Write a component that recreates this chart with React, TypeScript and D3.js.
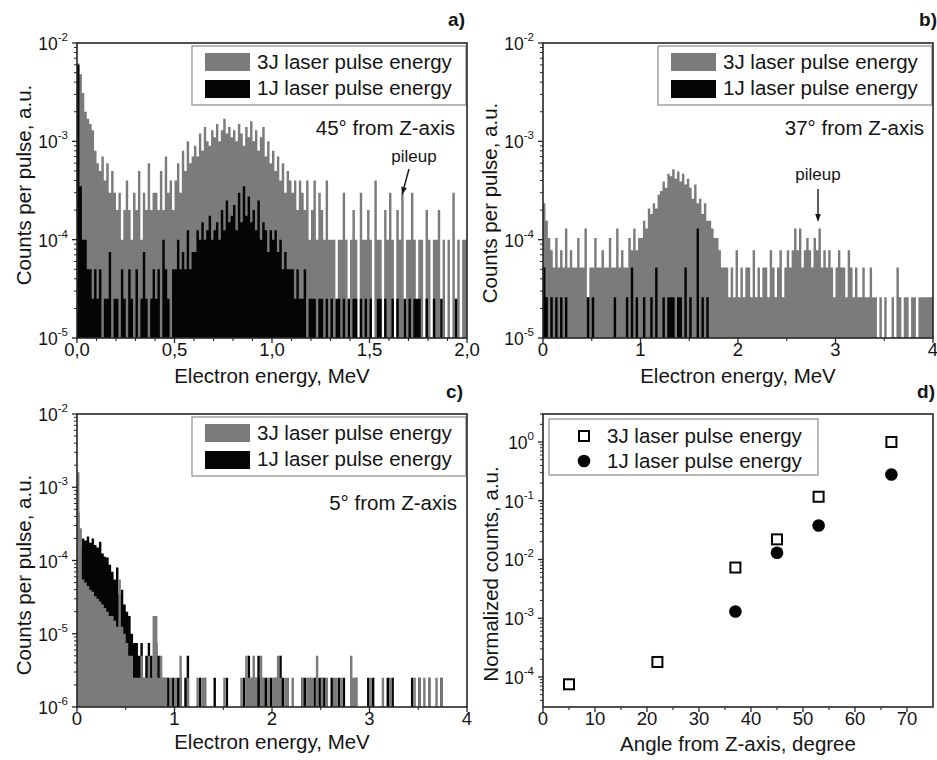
import React from "react";
import * as d3 from "d3";

// ---------------- data ----------------
// Panel a: 45 deg, energy bins of 0.0125 MeV, values are counts (times unit)
const binWidthA = 0.0125;
const unitA3J = 1e-4;
const unitA1J = 2.5e-5;
const countsA3J = [
  62, 48, 31, 20, 17, 15, 13, 8,
  6, 5, 7, 4, 6, 3, 5, 3,
  2, 3, 1, 2, 4, 2, 1, 3,
  2, 5, 1, 3, 2, 6, 2, 3,
  3, 2, 5, 2, 7, 3, 4, 2,
  4, 6, 3, 8, 5, 10, 6, 7,
  9, 7, 12, 8, 14, 10, 9, 13,
  11, 15, 10, 13, 17, 12, 14, 11,
  13, 10, 15, 12, 9, 14, 11, 16,
  10, 13, 8, 11, 14, 7, 10, 6,
  8, 5, 7, 4, 6, 3, 5, 4,
  3, 4, 2, 4, 3, 2, 4, 1,
  2, 4, 1, 3, 2, 1, 4, 1,
  1, 1, 0, 1, 1, 3, 1, 0,
  1, 2, 1, 0, 3, 1, 1, 2,
  1, 0, 4, 1, 1, 0, 2, 1,
  3, 1, 0, 2, 1, 3, 0, 1,
  1, 3, 1, 0, 1, 1, 0, 2,
  1, 0, 1, 1, 2, 0, 1, 0,
  1, 0, 3, 0, 1, 0, 1, 1,
];
const countsA1J = [
  240, 14, 4, 4, 2, 2, 1, 2,
  1, 2, 0, 1, 1, 3, 0, 1,
  1, 0, 2, 1, 0, 2, 1, 0,
  2, 0, 1, 3, 1, 0, 1, 2,
  1, 2, 0, 4, 2, 1, 0, 2,
  2, 4, 2, 3, 2, 5, 2, 3,
  3, 5, 4, 6, 4, 5, 7, 4,
  5, 6, 4, 8, 5, 10, 6, 7,
  9, 5, 12, 6, 14, 7, 11, 6,
  8, 5, 10, 4, 6, 5, 3, 5,
  4, 5, 3, 4, 2, 3, 2, 2,
  2, 1, 2, 1, 1, 2, 0, 1,
  1, 1, 0, 1, 1, 0, 1, 0,
  1, 0, 1, 1, 0, 1, 0, 1,
  0, 1, 1, 0, 1, 0, 1, 0,
  1, 0, 0, 1, 1, 0, 1, 0,
  0, 1, 0, 1, 0, 0, 1, 0,
  1, 0, 1, 1, 1, 0, 0, 1,
  0, 0, 1, 0, 0, 1, 0, 0,
  0, 0, 0, 1, 0, 0, 0, 0,
];

// Panel b: 37 deg, bins of 0.025 MeV
const binWidthB = 0.025;
const unitB = 2.6e-5;
const countsB3J = [
  9, 6, 4, 3, 2, 4, 2, 3, 2, 5, 2, 3, 2, 2, 4, 2,
  2, 5, 1, 2, 2, 4, 2, 2, 3, 2, 2, 4, 2, 2, 5, 2,
  3, 2, 2, 4, 3, 5, 3, 4, 4, 6, 5, 8, 7, 9, 8, 11,
  12, 15, 13, 18, 17, 20, 16, 19, 15, 18, 14, 16, 13, 10, 14, 9,
  10, 7, 9, 6, 6, 5, 4, 4, 3, 2, 2, 2, 1, 2, 1, 3,
  1, 2, 1, 2, 2, 1, 3, 1, 2, 1, 2, 2, 1, 3, 2, 1,
  2, 3, 1, 2, 3, 2, 3, 5, 3, 5, 2, 3, 4, 3, 2, 4,
  3, 5, 2, 3, 2, 3, 2, 1, 2, 3, 2, 2, 1, 3, 2, 1,
  2, 1, 1, 2, 1, 1, 2, 1, 1, 0, 1, 0, 1, 0, 0, 1,
  0, 2, 1, 0, 1, 1, 0, 1, 1, 0, 1, 1, 1, 1, 1, 1,
];
const countsB1J = [
  2, 1, 0, 1, 0, 1, 0, 1, 0, 1, 0, 0, 0, 0, 0, 0,
  0, 0, 1, 0, 1, 0, 0, 0, 0, 0, 0, 0, 0, 1, 0, 0,
  0, 0, 1, 0, 2, 0, 1, 0, 0, 1, 0, 0, 1, 0, 2, 0,
  0, 1, 0, 1, 1, 1, 0, 1, 1, 0, 2, 0, 1, 0, 0, 5,
  0, 1, 0, 1, 0, 0, 0, 0,
];

// Panel c: 5 deg, bins of 0.025 MeV
const binWidthC = 0.025;
const unitC = 2.5e-6;
const countsC3J = [
  640, 110, 22, 20, 18, 16, 15, 13, 12, 11, 10, 9, 8, 7, 7, 6,
  5, 22, 5, 4, 3, 2, 2, 1, 1, 1, 2, 1, 1, 2, 1, 7,
  7, 1, 2, 1, 1, 0, 1, 0, 1, 0, 2, 0, 0, 1, 0, 0,
  0, 1, 0, 1, 1, 0, 0, 0, 0, 0, 0, 0, 1, 0, 0, 0,
  0, 0, 0, 1, 0, 2, 1, 1, 2, 1, 0, 2, 1, 0, 1, 0,
  1, 1, 2, 1, 0, 1, 1, 0, 1, 0, 0, 0, 1, 0, 1, 1,
  1, 0, 2, 0, 1, 0, 1, 0, 0, 1, 1, 0, 1, 0, 0, 0,
  2, 1, 1, 0, 0, 0, 0, 0, 1, 0, 0, 0, 0, 1, 0, 0,
  1, 0, 0, 0, 0, 0, 0, 0, 0, 0, 1, 0, 1, 0, 1, 0,
  1, 0, 0, 1, 0, 1, 0, 0,
];
const countsC1J = [
  180, 60, 80, 75, 85, 70, 80, 65, 60, 72, 50, 45, 44, 35, 28, 22,
  32, 14, 16, 10, 8, 7, 4, 3, 3, 2, 3, 1, 2, 3, 2, 1,
  3, 2, 1, 1, 1, 1, 0, 1, 0, 1, 1, 0, 1, 2, 0, 0,
  0, 0, 1, 0, 1, 0, 0, 0, 1, 0, 0, 0, 0, 1, 0, 0,
  0, 0, 0, 0, 1, 0, 2, 1, 1, 1, 2, 1, 1, 1, 0, 1,
  0, 1, 0, 2, 1, 0, 0, 0, 0, 0, 0, 0, 1, 1, 0, 1,
  0, 1, 0, 1, 1, 1, 0, 0, 1, 0, 0, 1, 0, 1, 0, 0,
  1, 0, 1, 0, 0, 0, 0, 1, 0, 1, 0, 0, 0, 0, 0, 1,
  0, 1, 0, 0, 0, 0, 0, 0, 0, 1, 0, 0, 1, 0, 0, 0,
  1, 0, 0, 0, 0, 1, 0, 0,
];

// Panel d: normalized counts vs angle
const angles3J = [5, 22, 37, 45, 53, 67];
const norm3J = [7.5e-5, 1.8e-4, 7.3e-3, 2.2e-2, 0.117, 1.0];
const angles1J = [37, 45, 53, 67];
const norm1J = [1.3e-3, 1.3e-2, 3.8e-2, 0.28];

// Tick labels
const ticksA = [0, 0.5, 1, 1.5, 2];
const tickLabelsA = ["0,0", "0,5", "1,0", "1,5", "2,0"];
const ticksBC = [0, 1, 2, 3, 4];
const tickLabelsBC = ["0", "1", "2", "3", "4"];
const ticksD = [0, 10, 20, 30, 40, 50, 60, 70];
const tickLabelsD = ["0", "10", "20", "30", "40", "50", "60", "70"];
const legendLabels = ["3J laser pulse energy", "1J laser pulse energy"];

// ---------------- styles ----------------
const FONT = "'Liberation Sans', Arial, Helvetica, sans-serif";
const GRAY = "#7b7b7b";
const BLACK = "#050505";
const AXIS = "#262626";
const TEXT = "#141414";

type Geo = { l: number; r: number; t: number; b: number };
type Layer = { data: number[]; unit: number; color: string; binW: number };

function logTicks(lo: number, hi: number) {
  const out: { v: number; major: boolean; e: number }[] = [];
  const e0 = Math.floor(Math.log10(lo));
  const e1 = Math.ceil(Math.log10(hi));
  for (let e = e0; e <= e1; e++) {
    for (let k = 1; k <= 9; k++) {
      const v = k * Math.pow(10, e);
      if (v >= lo * 0.999 && v <= hi * 1.001) out.push({ v, major: k === 1, e });
    }
  }
  return out;
}

function Axes({
  g, x, y, xTicks, xLabels, xMinor, yDomain,
}: {
  g: Geo; x: d3.ScaleLinear<number, number>; y: d3.ScaleLogarithmic<number, number>;
  xTicks: number[]; xLabels: string[]; xMinor: number[]; yDomain: [number, number];
}) {
  const yt = logTicks(yDomain[0], yDomain[1]);
  return (
    <g>
      <rect x={g.l} y={g.t} width={g.r - g.l} height={g.b - g.t} fill="none" stroke={AXIS} strokeWidth={1.6} />
      {xTicks.map((v, i) => (
        <g key={"xt" + i}>
          <line x1={x(v)} x2={x(v)} y1={g.b} y2={g.b + 5} stroke={AXIS} strokeWidth={1.3} />
          <text x={x(v)} y={g.b + 18} textAnchor="middle" fontSize={18.5} fill={TEXT}>{xLabels[i]}</text>
        </g>
      ))}
      {xMinor.map((v, i) => (
        <line key={"xm" + i} x1={x(v)} x2={x(v)} y1={g.b} y2={g.b + 3} stroke={AXIS} strokeWidth={1.1} />
      ))}
      {yt.map((t, i) => (
        <g key={"yt" + i}>
          <line x1={g.l - (t.major ? 5 : 3)} x2={g.l} y1={y(t.v)} y2={y(t.v)} stroke={AXIS} strokeWidth={t.major ? 1.3 : 1} />
          {t.major ? (
            <text x={g.l - 9} y={y(t.v) + 7} textAnchor="end" fontSize={17.5} fill={TEXT}>
              10<tspan dy={-9} fontSize={11.5}>{String(t.e)}</tspan>
            </text>
          ) : null}
        </g>
      ))}
    </g>
  );
}

function barsPath(layer: Layer, x: d3.ScaleLinear<number, number>, y: d3.ScaleLogarithmic<number, number>, bottom: number) {
  const p = d3.path();
  layer.data.forEach((c, i) => {
    if (c <= 0) return;
    const x0 = x(i * layer.binW);
    const x1 = x((i + 1) * layer.binW);
    const yt = y(c * layer.unit);
    p.rect(x0, yt, x1 - x0, bottom - yt);
  });
  return p.toString();
}

function HistLegend({ g }: { g: Geo }) {
  const bx = g.l + 115;
  return (
    <g>
      <rect x={bx} y={g.t + 3} width={g.r - bx - 1} height={59} fill="white" stroke="#8a8a8a" strokeWidth={1.2} />
      <rect x={g.l + 128} y={g.t + 10} width={45} height={18} fill={GRAY} />
      <rect x={g.l + 128} y={g.t + 37} width={45} height={18} fill={BLACK} />
      <text x={g.l + 180} y={g.t + 26} fontSize={20.5} fill={TEXT}>{legendLabels[0]}</text>
      <text x={g.l + 180} y={g.t + 52} fontSize={20.5} fill={TEXT}>{legendLabels[1]}</text>
    </g>
  );
}

function Arrow({ x1, y1, x2, y2 }: { x1: number; y1: number; x2: number; y2: number }) {
  const dx = x2 - x1, dy = y2 - y1;
  const len = Math.hypot(dx, dy);
  const ux = dx / len, uy = dy / len;
  const bx = x2 - ux * 8, by = y2 - uy * 8;
  const nx = -uy, ny = ux;
  return (
    <g>
      <line x1={x1} y1={y1} x2={bx} y2={by} stroke={TEXT} strokeWidth={1.4} />
      <polygon points={`${x2},${y2} ${bx + nx * 2.8},${by + ny * 2.8} ${bx - nx * 2.8},${by - ny * 2.8}`} fill={TEXT} />
    </g>
  );
}

function HistPanel({
  id, g, xMax, yDomain, layers, xTicks, xLabels, xMinor,
}: {
  id: string; g: Geo; xMax: number; yDomain: [number, number]; layers: Layer[];
  xTicks: number[]; xLabels: string[]; xMinor: number[];
}) {
  const x = d3.scaleLinear().domain([0, xMax]).range([g.l, g.r]);
  const y = d3.scaleLog().domain(yDomain).range([g.b, g.t]);
  return (
    <g>
      <defs>
        <clipPath id={id}>
          <rect x={g.l} y={g.t} width={g.r - g.l} height={g.b - g.t} />
        </clipPath>
      </defs>
      <g clipPath={`url(#${id})`}>
        {layers.map((L, i) => (
          <path key={i} d={barsPath(L, x, y, g.b)} fill={L.color} />
        ))}
      </g>
      <HistLegend g={g} />
      <Axes g={g} x={x} y={y} xTicks={xTicks} xLabels={xLabels} xMinor={xMinor} yDomain={yDomain} />
    </g>
  );
}

const gA: Geo = { l: 77, r: 467, t: 43, b: 338 };
const gB: Geo = { l: 543, r: 933, t: 43, b: 338 };
const gC: Geo = { l: 77, r: 467, t: 414, b: 707 };
const gD: Geo = { l: 543, r: 933, t: 414, b: 707 };

export default function App() {
  const minorA = d3.range(0.1, 2, 0.1).filter((v) => Math.abs(v * 2 - Math.round(v * 2)) > 1e-6);
  const minorBC = [0.5, 1.5, 2.5, 3.5];
  const minorD = [5, 15, 25, 35, 45, 55, 65];

  const xD = d3.scaleLinear().domain([0, 75]).range([gD.l, gD.r]);
  const yDDomain: [number, number] = [3.08e-5, 3.0];
  const yD = d3.scaleLog().domain(yDDomain).range([gD.b, gD.t]);

  return (
    <svg width={937} height={760} style={{ position: "absolute", left: 0, top: 0, fontFamily: FONT }}>
      <rect x={0} y={0} width={937} height={760} fill="white" />

      {/* Panel a */}
      <HistPanel
        id="clipA" g={gA} xMax={2} yDomain={[1e-5, 1e-2]}
        layers={[
          { data: countsA3J, unit: unitA3J, color: GRAY, binW: binWidthA },
          { data: countsA1J, unit: unitA1J, color: BLACK, binW: binWidthA },
        ]}
        xTicks={ticksA} xLabels={tickLabelsA} xMinor={minorA}
      />
      <text x={455} y={135} textAnchor="end" fontSize={20.5} fill={TEXT}>45° from Z-axis</text>
      <text x={414} y={162} textAnchor="middle" fontSize={17} fill={TEXT}>pileup</text>
      <Arrow x1={409} y1={169} x2={402} y2={195} />
      <text x={465} y={26} textAnchor="end" fontSize={19} fontWeight="bold" fill={TEXT}>a)</text>
      <text x={272} y={383} textAnchor="middle" fontSize={20.5} fill={TEXT}>Electron energy, MeV</text>
      <text transform="translate(31,185) rotate(-90)" textAnchor="middle" fontSize={20.5} fill={TEXT}>Counts per pulse, a.u.</text>

      {/* Panel b */}
      <HistPanel
        id="clipB" g={gB} xMax={4} yDomain={[1e-5, 1e-2]}
        layers={[
          { data: countsB3J, unit: unitB, color: GRAY, binW: binWidthB },
          { data: countsB1J, unit: unitB, color: BLACK, binW: binWidthB },
        ]}
        xTicks={ticksBC} xLabels={tickLabelsBC} xMinor={minorBC}
      />
      <text x={924} y={135} textAnchor="end" fontSize={20.5} fill={TEXT}>37° from Z-axis</text>
      <text x={818} y={180} textAnchor="middle" fontSize={17} fill={TEXT}>pileup</text>
      <Arrow x1={818} y1={189} x2={818} y2={222} />
      <text x={937} y={26} textAnchor="end" fontSize={19} fontWeight="bold" fill={TEXT}>b)</text>
      <text x={738} y={383} textAnchor="middle" fontSize={20.5} fill={TEXT}>Electron energy, MeV</text>
      <text transform="translate(497,203) rotate(-90)" textAnchor="middle" fontSize={20.5} fill={TEXT}>Counts per pulse, a.u.</text>

      {/* Panel c */}
      <HistPanel
        id="clipC" g={gC} xMax={4} yDomain={[1e-6, 1e-2]}
        layers={[
          { data: countsC1J, unit: unitC, color: BLACK, binW: binWidthC },
          { data: countsC3J, unit: unitC, color: GRAY, binW: binWidthC },
        ]}
        xTicks={ticksBC} xLabels={tickLabelsBC} xMinor={minorBC}
      />
      <text x={457} y={510} textAnchor="end" fontSize={20.5} fill={TEXT}>5° from Z-axis</text>
      <text x={463} y={398} textAnchor="end" fontSize={19} fontWeight="bold" fill={TEXT}>c)</text>
      <text x={272} y={749} textAnchor="middle" fontSize={20.5} fill={TEXT}>Electron energy, MeV</text>
      <text transform="translate(31,575) rotate(-90)" textAnchor="middle" fontSize={20.5} fill={TEXT}>Counts per pulse, a.u.</text>

      {/* Panel d */}
      <g>
        <rect x={549} y={419} width={269} height={56} fill="white" stroke="#8a8a8a" strokeWidth={1.2} />
        <rect x={579} y={431} width={10} height={10} fill="white" stroke={BLACK} strokeWidth={2} />
        <circle cx={584} cy={461} r={6.3} fill={BLACK} />
        <text x={607} y={443} fontSize={20.5} fill={TEXT}>{legendLabels[0]}</text>
        <text x={607} y={468} fontSize={20.5} fill={TEXT}>{legendLabels[1]}</text>
        {angles3J.map((a, i) => (
          <rect key={"s" + i} x={xD(a) - 5} y={yD(norm3J[i]) - 5} width={10} height={10} fill="white" stroke={BLACK} strokeWidth={2} />
        ))}
        {angles1J.map((a, i) => (
          <circle key={"c" + i} cx={xD(a)} cy={yD(norm1J[i])} r={6.3} fill={BLACK} />
        ))}
        <Axes g={gD} x={xD} y={yD} xTicks={ticksD} xLabels={tickLabelsD} xMinor={minorD} yDomain={yDDomain} />
      </g>
      <text x={935} y={398} textAnchor="end" fontSize={19} fontWeight="bold" fill={TEXT}>d)</text>
      <text x={738} y={751} textAnchor="middle" fontSize={20.5} fill={TEXT}>Angle from Z-axis, degree</text>
      <text transform="translate(498,574) rotate(-90)" textAnchor="middle" fontSize={20.5} fill={TEXT}>Normalized counts, a.u.</text>
    </svg>
  );
}
